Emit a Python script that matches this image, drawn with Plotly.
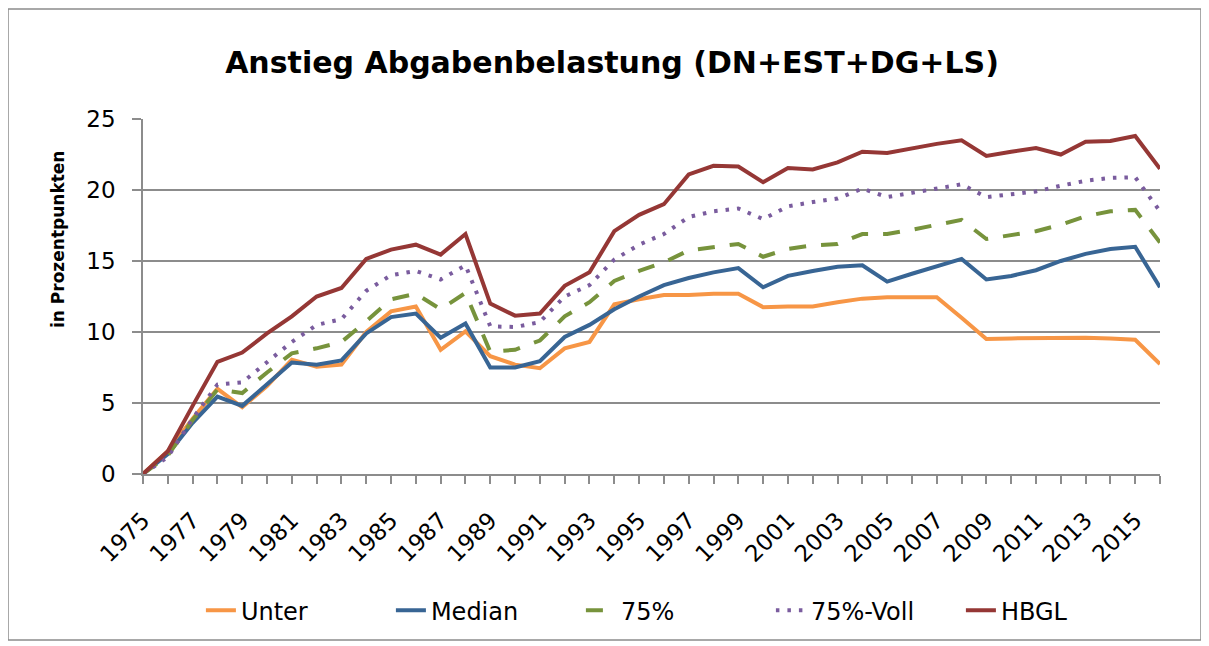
import plotly.graph_objects as go

years = list(range(1975, 2017))

unter = [0, 1.6, 3.9, 6.0, 4.7, 6.2, 8.05, 7.55, 7.7, 10.0,
         11.45, 11.8, 8.75, 10.05, 8.3, 7.7, 7.45, 8.85, 9.3, 11.95,
         12.3, 12.6, 12.6, 12.7, 12.7, 11.75, 11.8, 11.8, 12.1, 12.35,
         12.45, 12.45, 12.45, 11.0, 9.5, 9.55, 9.58, 9.6, 9.6, 9.55,
         9.45, 7.75]

median = [0, 1.4, 3.6, 5.45, 4.8, 6.3, 7.85, 7.7, 8.0, 9.9,
          11.05, 11.3, 9.6, 10.6, 7.5, 7.5, 7.95, 9.65, 10.5, 11.6,
          12.5, 13.3, 13.8, 14.2, 14.5, 13.15, 13.95, 14.3, 14.6, 14.7,
          13.55, 14.1, 14.6, 15.15, 13.7, 13.95, 14.35, 15.0, 15.5, 15.85,
          16.0, 13.15]

p75 = [0, 1.3, 3.8, 5.95, 5.7, 7.15, 8.5, 8.85, 9.3, 10.75,
       12.3, 12.7, 11.6, 12.75, 8.6, 8.75, 9.4, 11.1, 12.1, 13.6,
       14.3, 14.9, 15.75, 16.0, 16.2, 15.3, 15.85, 16.1, 16.2, 16.9,
       16.9, 17.2, 17.55, 17.9, 16.55, 16.85, 17.1, 17.55, 18.15, 18.5,
       18.6, 16.3]

p75_voll = [0, 1.2, 3.9, 6.3, 6.45, 7.9, 9.3, 10.5, 10.9, 12.9,
            14.0, 14.3, 13.7, 14.7, 10.4, 10.35, 10.7, 12.5, 13.3, 15.1,
            16.15, 16.9, 18.1, 18.5, 18.7, 17.95, 18.85, 19.15, 19.4, 20.1,
            19.5, 19.8, 20.1, 20.4, 19.5, 19.7, 19.9, 20.3, 20.65, 20.85,
            20.9, 18.5]

hbgl = [0, 1.6, 4.8, 7.9, 8.55, 9.9, 11.1, 12.5, 13.1, 15.15,
        15.8, 16.15, 15.45, 16.9, 12.0, 11.15, 11.3, 13.25, 14.2, 17.1,
        18.25, 19.0, 21.1, 21.7, 21.65, 20.55, 21.55, 21.45, 21.95, 22.7,
        22.6, 22.95, 23.25, 23.5, 22.4, 22.7, 22.95, 22.5, 23.4, 23.45,
        23.8, 21.5]

series_names = ["Unter", "Median", "75%", "75%-Voll", "HBGL"]
tick_years = list(range(1975, 2016, 2))

FONT = "DejaVu Sans"
GRID = "#8c8c8c"

styles = [
    dict(color="#F79646", width=4, dash="solid"),
    dict(color="#386594", width=4, dash="solid"),
    dict(color="#77933C", width=4, dash="17px,15px"),
    dict(color="#7A5C9E", width=4, dash="3.5px,8px"),
    dict(color="#953735", width=4, dash="solid"),
]

fig = go.Figure()
for name, vals, st in zip(series_names, [unter, median, p75, p75_voll, hbgl], styles):
    fig.add_trace(go.Scatter(x=years, y=vals, name=name, mode="lines", line=st))

W, H = 1201, 638
fig.update_layout(
    width=W, height=H,
    margin=dict(l=135, r=49, t=111, b=172),
    paper_bgcolor="white", plot_bgcolor="white",
    font=dict(family=FONT, color="black"),
    title=dict(text="<b>Anstieg Abgabenbelastung (DN+EST+DG+LS)</b>",
               x=604 / W, xanchor="center", y=1 - 54 / H, yanchor="middle",
               font=dict(family=FONT, size=30, color="black")),
    showlegend=True,
    legend=dict(orientation="h", x=0.524, xanchor="center", y=-0.385, yanchor="middle",
                font=dict(family=FONT, size=24, color="black"),
                entrywidth=145, entrywidthmode="pixels"),
    xaxis=dict(range=[1975, 2016], tickvals=tick_years, ticktext=[str(y) for y in tick_years],
               tickangle=-45, tickfont=dict(family=FONT, size=23), ticklabelstandoff=14,
               showgrid=False, zeroline=False, showline=True, linecolor=GRID, linewidth=1.5,
               ticks="outside", ticklen=8, tickcolor=GRID, tickwidth=1.5,
               minor=dict(dtick=1, tick0=1975, ticks="outside", ticklen=8, tickcolor=GRID, tickwidth=1.5, showgrid=False)),
    yaxis=dict(range=[0, 25], dtick=5, tickfont=dict(family=FONT, size=23),
               showgrid=True, gridcolor=GRID, gridwidth=1.5, zeroline=False,
               showline=True, linecolor=GRID, linewidth=1.5,
               ticks="outside", ticklen=9, tickcolor=GRID, tickwidth=1.5, ticklabelstandoff=12),
    annotations=[dict(text="<b>in Prozentpunkten</b>", textangle=-90, showarrow=False,
                      xref="paper", yref="paper", x=(58 - 143) / 1017, y=(474 - 240) / 355,
                      xanchor="center", yanchor="middle",
                      font=dict(family=FONT, size=17, color="black"))],
    shapes=[dict(type="rect", xref="paper", yref="paper",
                 x0=(8 - 143) / 1017, x1=(1201 - 143) / 1017,
                 y0=(474 - 640) / 355, y1=(474 - 9) / 355,
                 line=dict(color=GRID, width=1.5), fillcolor="rgba(0,0,0,0)", layer="below")],
)

fig.write_html("out.html")
